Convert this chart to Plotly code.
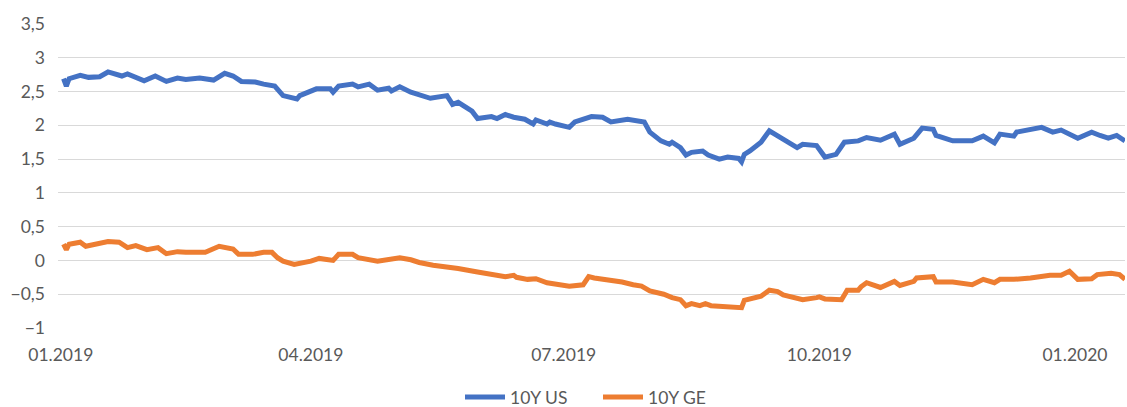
import plotly.graph_objects as go

us_dates = ["2019-01-02","2019-01-03","2019-01-04","2019-01-08","2019-01-11","2019-01-15","2019-01-18","2019-01-23","2019-01-25","2019-01-31",
"2019-02-04","2019-02-08","2019-02-12","2019-02-15","2019-02-20","2019-02-25","2019-03-01","2019-03-04","2019-03-07","2019-03-12",
"2019-03-15","2019-03-19","2019-03-22","2019-03-27","2019-03-28","2019-04-01","2019-04-03","2019-04-08","2019-04-09","2019-04-11",
"2019-04-16","2019-04-18","2019-04-22","2019-04-25","2019-04-29","2019-04-30","2019-05-03","2019-05-07","2019-05-10","2019-05-14",
"2019-05-20","2019-05-22","2019-05-24","2019-05-29","2019-05-31","2019-06-05","2019-06-07","2019-06-10","2019-06-13","2019-06-17",
"2019-06-20","2019-06-21","2019-06-25","2019-06-26","2019-06-28","2019-07-03","2019-07-05","2019-07-11","2019-07-15","2019-07-18",
"2019-07-24","2019-07-30","2019-08-01","2019-08-05","2019-08-08","2019-08-09","2019-08-12","2019-08-14","2019-08-16","2019-08-20",
"2019-08-22","2019-08-26","2019-08-29","2019-09-02","2019-09-03","2019-09-04","2019-09-06","2019-09-10","2019-09-13","2019-09-16",
"2019-09-20","2019-09-23","2019-09-25","2019-09-30","2019-10-03","2019-10-07","2019-10-10","2019-10-15","2019-10-18","2019-10-23",
"2019-10-28","2019-10-30","2019-11-04","2019-11-07","2019-11-11","2019-11-12","2019-11-18","2019-11-25","2019-11-29","2019-12-03",
"2019-12-05","2019-12-10","2019-12-11","2019-12-16","2019-12-20","2019-12-24","2019-12-27","2020-01-02","2020-01-07","2020-01-10",
"2020-01-13","2020-01-16","2020-01-19"]
us_values = [2.69,2.58,2.69,2.74,2.71,2.72,2.79,2.73,2.76,2.66,
2.73,2.65,2.70,2.68,2.70,2.67,2.77,2.73,2.65,2.64,
2.61,2.58,2.44,2.39,2.44,2.51,2.54,2.54,2.49,2.58,
2.61,2.57,2.61,2.52,2.55,2.51,2.57,2.49,2.45,2.40,
2.44,2.31,2.34,2.21,2.10,2.13,2.10,2.16,2.12,2.09,
2.02,2.08,2.02,2.05,2.02,1.97,2.05,2.13,2.12,2.05,
2.09,2.05,1.90,1.77,1.72,1.75,1.67,1.56,1.60,1.62,
1.56,1.50,1.53,1.51,1.46,1.57,1.62,1.75,1.92,1.84,
1.75,1.67,1.72,1.70,1.53,1.57,1.75,1.77,1.82,1.78,
1.87,1.72,1.81,1.96,1.94,1.85,1.77,1.77,1.84,1.74,
1.87,1.84,1.90,1.94,1.97,1.90,1.93,1.81,1.90,1.85,
1.81,1.85,1.77]

ge_dates = ["2019-01-02","2019-01-03","2019-01-04","2019-01-08","2019-01-10","2019-01-14","2019-01-18","2019-01-22","2019-01-25","2019-01-28",
"2019-02-01","2019-02-05","2019-02-08","2019-02-12","2019-02-15","2019-02-22","2019-02-27","2019-03-04","2019-03-06","2019-03-11",
"2019-03-15","2019-03-18","2019-03-20","2019-03-22","2019-03-26","2019-04-01","2019-04-04","2019-04-09","2019-04-11","2019-04-16",
"2019-04-18","2019-04-25","2019-05-01","2019-05-03","2019-05-07","2019-05-10","2019-05-15","2019-05-20","2019-05-24","2019-05-31",
"2019-06-05","2019-06-10","2019-06-13","2019-06-14","2019-06-18","2019-06-21","2019-06-25","2019-07-01","2019-07-03","2019-07-08",
"2019-07-10","2019-07-12","2019-07-16","2019-07-22","2019-07-26","2019-07-29","2019-08-01","2019-08-06","2019-08-09","2019-08-12",
"2019-08-14","2019-08-16","2019-08-19","2019-08-21","2019-08-23","2019-08-26","2019-08-28","2019-09-02","2019-09-03","2019-09-04",
"2019-09-06","2019-09-10","2019-09-13","2019-09-16","2019-09-18","2019-09-23","2019-09-25","2019-09-30","2019-10-01","2019-10-03",
"2019-10-07","2019-10-09","2019-10-10","2019-10-11","2019-10-15","2019-10-16","2019-10-18","2019-10-23","2019-10-28","2019-10-30",
"2019-11-04","2019-11-05","2019-11-11","2019-11-12","2019-11-18","2019-11-25","2019-11-29","2019-12-03","2019-12-05","2019-12-10",
"2019-12-16","2019-12-23","2019-12-27","2019-12-30","2020-01-02","2020-01-07","2020-01-09","2020-01-14","2020-01-17","2020-01-19"]
ge_values = [0.24,0.16,0.24,0.27,0.21,0.25,0.28,0.27,0.19,0.22,
0.16,0.19,0.10,0.13,0.12,0.12,0.21,0.17,0.09,0.09,
0.12,0.12,0.04,-0.01,-0.06,-0.01,0.03,0.00,0.09,0.09,
0.04,-0.01,0.03,0.04,0.01,-0.03,-0.07,-0.09,-0.12,-0.17,
-0.21,-0.24,-0.22,-0.25,-0.28,-0.27,-0.33,-0.38,-0.38,-0.36,
-0.24,-0.26,-0.28,-0.32,-0.36,-0.38,-0.45,-0.50,-0.55,-0.58,
-0.67,-0.64,-0.67,-0.64,-0.67,-0.68,-0.69,-0.69,-0.70,-0.59,
-0.57,-0.53,-0.44,-0.46,-0.51,-0.57,-0.58,-0.55,-0.54,-0.57,
-0.57,-0.58,-0.51,-0.44,-0.44,-0.39,-0.33,-0.40,-0.31,-0.37,
-0.31,-0.26,-0.24,-0.32,-0.32,-0.36,-0.28,-0.33,-0.28,-0.28,
-0.26,-0.22,-0.22,-0.16,-0.28,-0.27,-0.21,-0.19,-0.21,-0.28]

y_ticks = [-1, -0.5, 0, 0.5, 1, 1.5, 2, 2.5, 3, 3.5]

FONT = "Lato"
TXT = "#595959"
FS = 17.5

fig = go.Figure()
fig.add_trace(go.Scatter(x=us_dates, y=us_values, mode="lines", name="10Y US",
                         line=dict(color="#4472C4", width=5)))
fig.add_trace(go.Scatter(x=ge_dates, y=ge_values, mode="lines", name="10Y GE",
                         line=dict(color="#ED7D31", width=5)))

fig.update_layout(
    width=1127, height=407,
    margin=dict(l=58, r=2, t=24, b=79, autoexpand=False),
    paper_bgcolor="white", plot_bgcolor="white",
    separators=", ",
    font=dict(family=FONT, size=FS, color=TXT),
    showlegend=True,
    legend=dict(orientation="h",
                xref="container", x=460 / 1127, xanchor="left",
                yref="container", y=10 / 407, yanchor="middle",
                entrywidth=83, entrywidthmode="pixels",
                font=dict(family=FONT, size=FS, color=TXT), itemwidth=40),
)
fig.update_xaxes(
    type="date", range=["2018-12-31", "2020-01-19"], automargin=False,
    tickformat="%m.%Y", dtick="M3", tick0="2019-01-01",
    showgrid=False, showline=False, zeroline=False, ticks="",
    ticklabelstandoff=14,
    tickfont=dict(family=FONT, size=FS, color=TXT),
)
fig.update_yaxes(
    range=[-1, 3.5], tickvals=y_ticks, automargin=False,
    showgrid=True, gridcolor="#D9D9D9", gridwidth=1,
    zeroline=False, showline=False, ticks="",
    ticklabelstandoff=12,
    tickfont=dict(family=FONT, size=FS, color=TXT),
)
fig.write_html("out.html", config={"displayModeBar": False},
               post_script="document.body.style.margin='0';document.body.style.overflow='hidden';")
